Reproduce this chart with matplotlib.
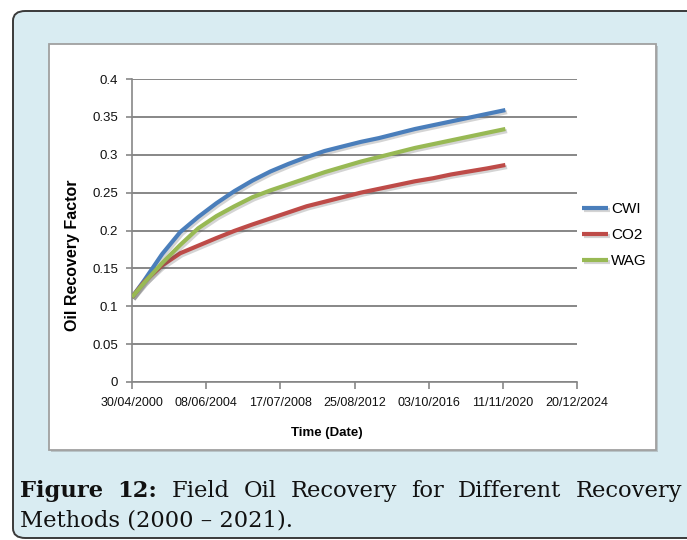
import datetime as dt

import matplotlib
matplotlib.use('Agg')
import matplotlib.pyplot as plt
import matplotlib.dates as mdates
import matplotlib.patheffects as pe
from matplotlib.patches import FancyBboxPatch, Rectangle

# --- dados ---
datas = [dt.date(2000, 4, 30)] + [dt.date(ano, 1, 1) for ano in range(2001, 2022)]
cwi = [0.112, 0.134, 0.169, 0.198, 0.218, 0.236, 0.252, 0.266, 0.278, 0.288, 0.297,
       0.305, 0.311, 0.317, 0.322, 0.328, 0.334, 0.339, 0.344, 0.349, 0.354, 0.359]
co2 = [0.112, 0.132, 0.154, 0.170, 0.180, 0.190, 0.1995, 0.208, 0.216, 0.224, 0.232,
       0.238, 0.244, 0.250, 0.255, 0.260, 0.265, 0.269, 0.274, 0.278, 0.282, 0.2865]
wag = [0.112, 0.131, 0.157, 0.181, 0.203, 0.219, 0.232, 0.244, 0.253, 0.261, 0.269,
       0.277, 0.284, 0.291, 0.297, 0.303, 0.309, 0.314, 0.319, 0.324, 0.329, 0.334]
series = [('CWI', cwi, '#4a7ebb'), ('CO2', co2, '#be4b48'), ('WAG', wag, '#98b954')]

xmin, xmax = dt.date(2000, 4, 30), dt.date(2024, 12, 20)
y_ticks = [0, 0.05, 0.1, 0.15, 0.2, 0.25, 0.3, 0.35, 0.4]
y_labels = ['0', '0.05', '0.1', '0.15', '0.2', '0.25', '0.3', '0.35', '0.4']

W, H = 687, 540
sans = ['Liberation Sans', 'DejaVu Sans']

fig = plt.figure(figsize=(W / 100, H / 100), dpi=100, facecolor='white')


def fx(px):
    return px / W


def fy(py):
    return 1 - py / H


# moldura azul clara com cantos arredondados
fundo = FancyBboxPatch((fx(13), fy(538)), fx(720) - fx(13), fy(11) - fy(538),
                       boxstyle='round,pad=0,rounding_size=0.018',
                       transform=fig.transFigure, facecolor='#d9ecf2',
                       edgecolor='#3a3a3a', linewidth=1.4, zorder=0)
fig.patches.append(fundo)

# caixa branca do grafico (com sombra leve)
sombra = Rectangle((fx(51), fy(452)), fx(656) - fx(49), fy(44) - fy(450),
                   transform=fig.transFigure, facecolor='#b8c4c8', edgecolor='none', zorder=1)
caixa = Rectangle((fx(49), fy(450)), fx(656) - fx(49), fy(44) - fy(450),
                  transform=fig.transFigure, facecolor='white', edgecolor='#a0a0a0',
                  linewidth=1.3, zorder=2)
fig.patches.extend([sombra, caixa])

ax = fig.add_axes([fx(132), fy(382), fx(577) - fx(132), fy(79) - fy(382)])
ax.set_zorder(3)
ax.patch.set_alpha(0)

for nome, valores, cor in series:
    ax.plot(datas, valores, color=cor, linewidth=3, label=nome, solid_capstyle='butt',
            path_effects=[pe.SimpleLineShadow(offset=(1.2, -1.5), alpha=0.25, shadow_color='#555555'),
                          pe.Normal()], zorder=4)

ax.set_xlim(xmin, xmax)
ax.set_ylim(0, 0.4)
ticks_x = [mdates.date2num(xmin) + 1500 * k for k in range(7)]
ax.set_xticks(ticks_x)
ax.xaxis.set_major_formatter(mdates.DateFormatter('%d/%m/%Y'))
ax.set_yticks(y_ticks)
ax.set_yticklabels(y_labels)

ax.grid(True, axis='y', color='#878787', linewidth=1.4)
ax.set_axisbelow(True)
for lado in ['top', 'right']:
    ax.spines[lado].set_visible(False)
for lado in ['left', 'bottom']:
    ax.spines[lado].set_color('#878787')
    ax.spines[lado].set_linewidth(1.2)
ax.tick_params(axis='x', direction='out', length=5, width=1.2, color='#878787', pad=6)
ax.tick_params(axis='y', direction='out', length=4, width=1.2, color='#878787', pad=6)
for rot in ax.get_xticklabels():
    rot.set_fontfamily(sans)
    rot.set_fontsize(9)
    rot.set_color('#111111')
for rot in ax.get_yticklabels():
    rot.set_fontfamily(sans)
    rot.set_fontsize(9.5)
    rot.set_color('#111111')

ax.set_xlabel('Time (Date)', fontfamily=sans, fontsize=9.5, fontweight='bold')
ax.xaxis.set_label_coords((327 - 132) / 445, (382 - 427) / 303)
ax.set_ylabel('Oil Recovery Factor', fontfamily=sans, fontsize=11.5, fontweight='bold')
ax.yaxis.set_label_coords((80 - 132) / 445, (382 - 255) / 303)

leg = ax.legend(loc='upper left', bbox_to_anchor=(fx(582), fy(202)), bbox_transform=fig.transFigure,
                frameon=False, borderpad=0, borderaxespad=0, handlelength=1.7, handletextpad=0.2,
                labelspacing=0.8, prop={'family': sans, 'size': 11})

# legenda da figura (texto justificado na primeira linha)
fig.canvas.draw()
renderer = fig.canvas.get_renderer()
palavras = [('Figure', 'bold'), ('12:', 'bold'), ('Field', 'normal'), ('Oil', 'normal'),
            ('Recovery', 'normal'), ('for', 'normal'), ('Different', 'normal'), ('Recovery', 'normal')]
serif = ['DejaVu Serif']
tam = 16.3
objs = []
larg = 0
for p, peso in palavras:
    t = fig.text(0, fy(497), p, fontfamily=serif, fontsize=tam, fontweight=peso,
                 color='#111111', va='baseline', ha='left')
    objs.append(t)
    larg += t.get_window_extent(renderer).width
esq, dir_ = 20, 682
gap = (dir_ - esq - larg) / (len(objs) - 1)
x = esq
for t in objs:
    t.set_x(fx(x))
    x += t.get_window_extent(renderer).width + gap
fig.text(fx(esq), fy(526), 'Methods (2000 \u2013 2021).', fontfamily=serif, fontsize=tam,
         color='#111111', va='baseline', ha='left')

fig.savefig('out.png', dpi=100)
plt.close(fig)
